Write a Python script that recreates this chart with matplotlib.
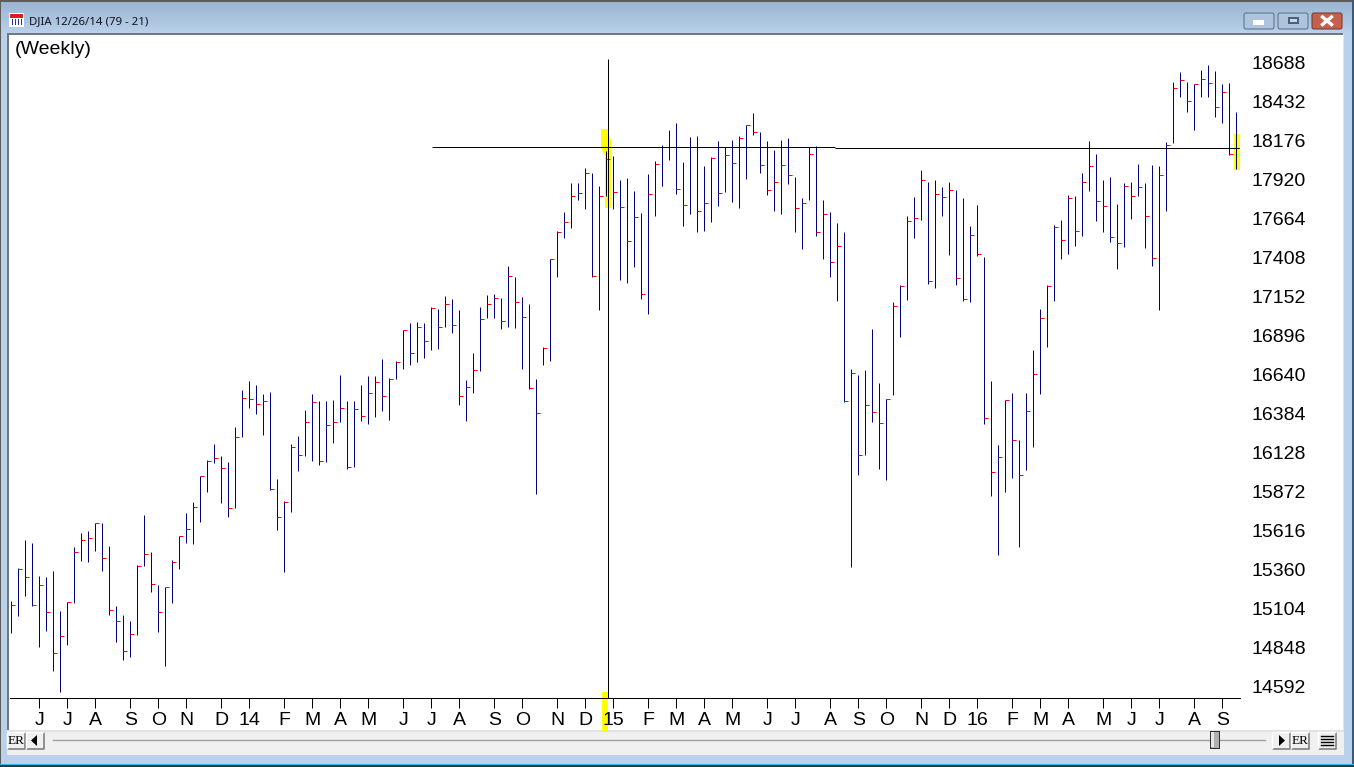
import numpy as np
import matplotlib
matplotlib.use('Agg')
import matplotlib.pyplot as plt
from matplotlib.patches import Rectangle, FancyBboxPatch, Polygon
from matplotlib.transforms import ScaledTranslation

# weekly DJIA bars
high = [15144, 15361, 15545, 15526, 15309, 15302, 15342, 15079, 15138, 15499, 15591, 15604, 15655, 15657, 15506, 15111,
        15052, 15013, 15381, 15710, 15466, 15249, 15236, 15414, 15572, 15723, 15795, 15964, 16071, 16176, 16098, 16058,
        16288, 16532, 16591, 16564, 16505, 16518, 15946, 15802, 16176, 16229, 16400, 16505, 16459, 16459, 16466, 16630,
        16459, 16459, 16564, 16624, 16624, 16735, 16610, 16722, 16926, 16972, 16979, 16972, 17077, 17064, 17150, 17130,
        17058, 16597, 16775, 17077, 17156, 17163, 17136, 17347, 17275, 17143, 17097, 16604, 16814, 17393, 17577, 17702,
        17892, 17892, 17991, 17958, 17873, 18103, 18070, 17912, 17925, 17840, 17695, 17952, 18037, 18142, 18241, 18287,
        18031, 18195, 18201, 18004, 18063, 18169, 18129, 18175, 18201, 18274, 18353, 18228, 18169, 18109, 18175, 18188,
        17932, 17794, 18127, 18136, 17781, 17702, 17629, 17570, 16670, 16630, 16663, 16933, 16578, 16472, 17110, 17222,
        17676, 17800, 17978, 17899, 17912, 17866, 17899, 17846, 17794, 17610, 17748, 17406, 16591, 16170, 16466, 16512,
        16203, 16512, 16795, 17064, 17222, 17616, 17649, 17814, 17807, 17958, 18169, 18083, 17912, 17932, 17754, 17892,
        17899, 18017, 17892, 18011, 18004, 18162, 18557, 18622, 18557, 18543, 18635, 18668, 18629, 18543, 18550, 18359]
low = [14934, 15046, 15177, 15111, 14842, 14947, 14684, 14546, 14855, 15131, 15407, 15401, 15473, 15342, 15052, 14875,
       14756, 14776, 14921, 15374, 15203, 14940, 14717, 15131, 15355, 15526, 15519, 15664, 15861, 16052, 15789, 15697,
       15756, 16223, 16413, 16374, 16236, 15874, 15611, 15335, 15729, 15999, 16098, 16065, 16038, 16058, 16183, 16321,
       16012, 16025, 16328, 16308, 16354, 16393, 16334, 16604, 16670, 16696, 16716, 16742, 16795, 16801, 16946, 16906,
       16433, 16328, 16512, 16656, 17005, 17005, 16933, 16946, 16939, 16670, 16538, 15848, 16696, 16722, 17274, 17531,
       17597, 17781, 17722, 17274, 17057, 17807, 17722, 17255, 17235, 17340, 17130, 17031, 17676, 17873, 18044, 17820,
       17610, 17689, 17570, 17577, 17636, 17741, 17833, 17768, 17728, 17919, 18208, 17958, 17814, 17708, 17689, 17886,
       17570, 17459, 17781, 17544, 17393, 17274, 17117, 16453, 15368, 15973, 16104, 16321, 16012, 15940, 16499, 16880,
       17123, 17531, 17649, 17228, 17202, 17676, 17419, 17222, 17117, 17110, 17413, 16308, 15835, 15447, 15861, 15953,
       15499, 16006, 16157, 16505, 16814, 17117, 17393, 17426, 17478, 17544, 17840, 17643, 17570, 17505, 17327, 17472,
       17656, 17807, 17465, 17347, 17057, 17708, 18155, 18458, 18359, 18241, 18458, 18458, 18326, 18287, 18077, 17985]
close = [15116, 15352, 15300, 15116, 15247, 15070, 14800, 14912, 15135, 15464, 15543, 15556, 15655, 15425, 15083, 15011,
         14813, 14925, 15372, 15451, 15254, 15070, 15234, 15398, 15569, 15615, 15760, 15964, 16063, 16082, 16017, 15754,
         16220, 16477, 16470, 16437, 16457, 15878, 15694, 15793, 16155, 16102, 16319, 16450, 16063, 16299, 16319, 16411,
         16023, 16404, 16358, 16510, 16582, 16490, 16602, 16713, 16924, 16773, 16944, 16852, 17068, 16944, 17095, 16957,
         16490, 16549, 16661, 16996, 17095, 17134, 16983, 17279, 17108, 17009, 16543, 16378, 16805, 17391, 17568, 17634,
         17805, 17825, 17956, 17279, 17805, 18048, 17831, 17732, 17509, 17667, 17160, 17818, 18015, 18131, 18127, 17851,
         17746, 18127, 17706, 17759, 18055, 17825, 18074, 18022, 18186, 18272, 18226, 18009, 17844, 17897, 18009, 17943,
         17726, 17759, 18081, 17568, 17686, 17371, 17476, 16457, 16641, 16102, 16431, 16385, 16312, 16470, 17082, 17213,
         17640, 17660, 17910, 17246, 17818, 17798, 17844, 17266, 17128, 17548, 17423, 16345, 15990, 16089, 16464, 16201,
         15970, 16391, 16635, 17003, 17213, 17601, 17516, 17792, 17575, 17897, 18002, 17772, 17739, 17535, 17496, 17871,
         17805, 17864, 17673, 17397, 17943, 18140, 18515, 18567, 18429, 18541, 18574, 18548, 18390, 18489, 18081, 18120]

price_ticks = [14592, 14848, 15104, 15360, 15616, 15872, 16128, 16384, 16640, 16896, 17152, 17408, 17664, 17920, 18176, 18432, 18688]
month_pos = [4, 8, 12, 17, 21, 25, 30, 34, 39, 43, 47, 51, 56, 60, 64, 69, 73, 78, 82, 86,
             91, 95, 99, 103, 108, 112, 117, 121, 125, 130, 134, 138, 143, 147, 151, 156, 160, 164, 169, 173]
month_labels = ['J', 'J', 'A', 'S', 'O', 'N', 'D', '14', 'F', 'M', 'A', 'M', 'J', 'J', 'A', 'S', 'O', 'N', 'D', '15',
                'F', 'M', 'A', 'M', 'J', 'J', 'A', 'S', 'O', 'N', 'D', '16', 'F', 'M', 'A', 'M', 'J', 'J', 'A', 'S']

# drawn trendlines: (start bar, end bar, price)
trend_left = (60.1, 117.7, 18127)
trend_right = (117.7, 175.3, 18120)
cross_bar = 85.2
cross_top = 18708
marked_bar = 85

W, H = 1354, 767
BORDER = '#b9d1ea'
PANEL = '#f0f0f0'

plt.rcParams['font.family'] = ['Liberation Sans', 'DejaVu Sans']
fig = plt.figure(figsize=(W / 100, H / 100), dpi=100)

# window frame is drawn on a full figure axes in pixel units
bg = fig.add_axes([0, 0, 1, 1], zorder=0)
bg.set_xlim(0, W)
bg.set_ylim(H, 0)
bg.axis('off')


def box(x0, y0, x1, y1, color, z=1, **kw):
    bg.add_patch(Rectangle((x0, y0), x1 - x0, y1 - y0, facecolor=color, edgecolor='none', zorder=z, **kw))


def button(x0, y0, x1, y1):
    box(x0, y0, x1, y1, '#f0f0f0', 3)
    bg.plot([x0, x1, x1], [y1, y1, y0], color='#808080', lw=1.2, zorder=4, solid_capstyle='butt')
    bg.plot([x0, x0, x1], [y1, y0, y0], color='#ffffff', lw=1, zorder=4, solid_capstyle='butt')


box(0, 0, W, H, BORDER, 0)
grad = np.linspace(0, 1, 32).reshape(-1, 1)
top_c = np.array([0x9c, 0xb5, 0xd1]) / 255
bot_c = np.array([0xb9, 0xd1, 0xea]) / 255
bg.imshow(top_c + grad[:, :, None] * (bot_c - top_c), extent=[0, W, 34, 2], aspect='auto', zorder=1)
bg.set_xlim(0, W)
bg.set_ylim(H, 0)
box(0, 0, W, 2, '#5c5c5c', 2)
box(0, 0, 1, H, '#5c5c5c', 2)
box(W - 2, 0, W, H, '#3c5a78', 2)
box(0, 764, W, 765, '#2fb8d8', 2)
box(0, 765, W, H, '#1f3a4a', 2)
box(7, 33, 1343, 732, '#707880', 1)
box(1343, 34, 1344, 755, '#dfe8f2', 1)
box(9, 35, 1343, 730, 'white', 2)
box(7, 730, 1344, 755, PANEL, 2)
box(7, 730, 1344, 732, '#e2e2e2', 2)

# title bar
box(9, 13, 24, 27, 'white', 3)
box(10, 14, 23, 18, '#d62020', 4)
for xb in [12, 15, 18, 21]:
    box(xb, 19, xb + 1, 25, '#2030b0', 4)
bg.text(29, 21.5, 'DJIA 12/26/14 (79 - 21)', fontsize=8.2, family=['Noto Sans', 'DejaVu Sans'], color='#101020', va='center', ha='left', zorder=5)

for x0, x1, fc, ec in [(1244, 1274, '#aec4dc', '#5f7690'), (1278, 1308, '#aec4dc', '#5f7690'), (1312, 1342, '#c4604c', '#7a4038')]:
    bg.add_patch(FancyBboxPatch((x0, 13), x1 - x0, 16, boxstyle='round,pad=0,rounding_size=2', facecolor=fc, edgecolor=ec, lw=0.8, zorder=3))
box(1253, 20, 1264, 24.5, 'white', 4)
box(1288, 17, 1299, 24, '#4c6078', 4)
box(1290, 19, 1297, 22, '#c8d8e8', 5)
bg.plot([1322.5, 1331.5], [17, 24.5], color='white', lw=2.4, zorder=5)
bg.plot([1322.5, 1331.5], [24.5, 17], color='white', lw=2.4, zorder=5)

# scroll bar
button(7, 732, 25, 749)
button(26, 732, 44, 749)
button(1272, 732, 1290, 749)
button(1291, 732, 1309, 749)
button(1318, 732, 1336, 749)
bg.plot([53, 1265], [740, 740], color='#a0a0a0', lw=1, zorder=3)
box(1210, 731, 1219, 748, '#b0b0b0', 4)
box(1211, 732, 1214, 747, '#e8e8e8', 5)
box(1209.5, 730.5, 1219.5, 731.5, '#303030', 5)
box(1209.5, 747.5, 1219.5, 748.5, '#303030', 5)
box(1209.5, 730.5, 1210.5, 748.5, '#303030', 5)
box(1218.5, 730.5, 1219.5, 748.5, '#303030', 5)
for xt in [16, 1300]:
    bg.text(xt, 740.5, 'ER', fontsize=9.5, family=['Liberation Serif'], color='black', ha='center', va='center', zorder=6)
bg.add_patch(Polygon([[31, 740.5], [37, 735], [37, 746]], facecolor='black', zorder=6))
bg.add_patch(Polygon([[1285, 740.5], [1279, 735], [1279, 746]], facecolor='black', zorder=6))
for yl in [736, 739, 742, 745]:
    bg.plot([1321, 1333], [yl, yl], color='black', lw=1, zorder=6)

# yellow highlights behind the bars
bg.add_patch(Polygon([[601, 129], [609, 129], [609, 134], [611, 140], [611, 208], [605, 208], [605, 156], [601, 148]],
                     facecolor='#ffff00', edgecolor='none', zorder=3))
box(1233.5, 134, 1239.5, 170, '#ffff00', 3)
box(602, 692, 608, 731, '#ffff00', 5)

bg.text(15, 50, '(Weekly)', fontsize=14, color='black', ha='left', va='center', zorder=6)

# chart axes, left edge 10 px and right edge 1240 px, bars 7 px apart starting at 11.4 px
left, right, top, bottom = 10, 1240, 35, 698
ax = fig.add_axes([left / W, 1 - bottom / H, (right - left) / W, (bottom - top) / H], zorder=2)
ax.patch.set_alpha(0)
ax.set_xlim((left - 11.4) / 7, (right - 11.4) / 7)
per_px = 256 / 38.94
ax.set_ylim(14592 - (bottom - 685) * per_px, 14592 + (685 - top) * per_px)

idx = np.arange(len(high))
colors = ['black' if i == marked_bar else '#000080' for i in idx]
ax.vlines(idx, low, high, colors=colors, lw=0.72, snap=True, zorder=3)
ax.hlines(close, idx, idx + 0.5, colors='#ff0000', lw=0.72, snap=True, zorder=4)

ax.hlines(trend_left[2], trend_left[0], trend_left[1], colors='black', lw=0.72, snap=True, zorder=5)
ax.hlines(trend_right[2], trend_right[0], trend_right[1], colors='black', lw=0.72, snap=True, zorder=5)
ax.vlines(cross_bar, ax.get_ylim()[0], cross_top, colors='black', lw=0.72, snap=True, zorder=5)

ax.yaxis.tick_right()
ax.set_yticks(price_ticks)
ax.set_yticklabels([str(p) for p in price_ticks], fontsize=14, color='black')
ax.tick_params(axis='y', length=0, pad=8.6)
for lab in ax.get_yticklabels():
    lab.set_transform(lab.get_transform() + ScaledTranslation(0, -1 / 100, fig.dpi_scale_trans))
ax.set_xticks(month_pos)
ax.set_xticklabels(month_labels, fontsize=14, color='black')
ax.tick_params(axis='x', length=7.2, width=0.72, pad=3)
for s in ['top', 'left', 'right']:
    ax.spines[s].set_visible(False)
ax.spines['bottom'].set_linewidth(0.72)

fig.savefig('out.png', dpi=100)
